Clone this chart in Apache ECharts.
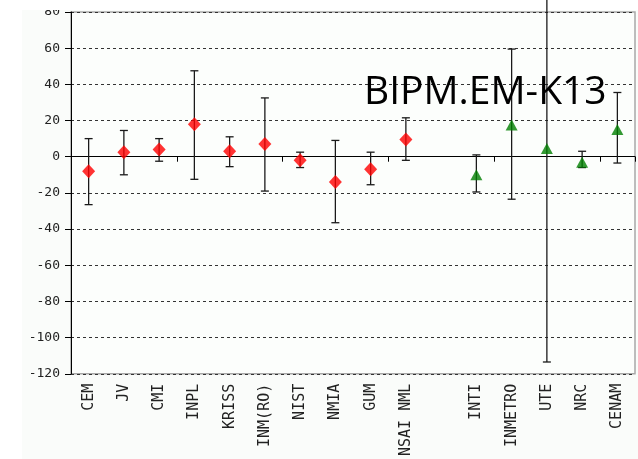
<!DOCTYPE html>
<html>
<head>
<meta charset="utf-8">
<script src="https://cdn.jsdelivr.net/npm/echarts@6/dist/echarts.min.js"></script>
<style>html,body{margin:0;padding:0;background:#fff}#c{width:638px;height:459px}</style>
</head>
<body>
<div id="c"></div>
<script>
var categories = ['CEM','JV','CMI','INPL','KRISS','INM(RO)','NIST','NMIA','GUM','NSAI NML','','INTI','INMETRO','UTE','NRC','CENAM'];
var values = [-8, 2.5, 4, 18, 3, 7, -2, -14, -7, 9.5, null, -10, 17.5, 4.5, -3, 15];
var upper  = [10, 14.5, 10, 47.5, 11, 32.5, 2.5, 9, 2.5, 21.5, null, 1, 59.5, 122, 3, 35.5];
var lower  = [-26.5, -10, -2.5, -12.5, -5.5, -19, -6, -36.5, -15.5, -2, null, -19.5, -23.5, -113.5, -6, -3.5];
var redCount = 10; // first group (diamonds); the rest after the gap are triangles
var yTicks = [-120, -100, -80, -60, -40, -20, 0, 20, 40, 60, 80];

var redData = [], greenData = [], errData = [];
for (var i = 0; i < categories.length; i++) {
  if (values[i] === null) continue;
  if (i < redCount) redData.push([i, values[i]]); else greenData.push([i, values[i]]);
  errData.push([i, lower[i], upper[i]]);
}

var chart = echarts.init(document.getElementById('c'));
chart.setOption({
  animation: false,
  backgroundColor: '#ffffff',
  grid: {left: 71, right: 3, top: 12, bottom: 83, show: true, backgroundColor: '#fcfefc', borderColor: '#a8a8a8', borderWidth: 1.5},
  xAxis: [{
    type: 'category', data: categories, position: 'bottom',
    axisLine: {onZero: true, lineStyle: {color: '#000', width: 1}},
    axisTick: {show: true, length: 5, lineStyle: {color: '#000'}},
    axisLabel: {show: false}, splitLine: {show: false}
  }, {
    type: 'category', data: categories, position: 'bottom',
    axisLine: {show: false, onZero: false}, axisTick: {show: false},
    axisLabel: {rotate: 90, margin: 10, interval: 0, fontFamily: 'DejaVu Sans Mono', fontSize: 15, color: '#222'},
    splitLine: {show: false}
  }],
  yAxis: {
    type: 'value', min: yTicks[0], max: yTicks[yTicks.length - 1], interval: 20,
    axisLine: {show: true, lineStyle: {color: '#000', width: 1}},
    axisTick: {show: true, length: 6, lineStyle: {color: '#000'}},
    axisLabel: {margin: 11, fontFamily: 'DejaVu Sans Mono', fontSize: 13, color: '#222'},
    splitLine: {show: true, lineStyle: {color: '#333', type: [3, 3], width: 1}}
  },
  graphic: [{
    type: 'rect', z: -10, silent: true,
    shape: {x: 22, y: 10, width: 616, height: 449},
    style: {fill: '#fafcfa'}
  }, {
    type: 'rect', z: 1, silent: true,
    shape: {x: 0, y: 0, width: 638, height: 10},
    style: {fill: '#ffffff'}
  }, {
    type: 'text', left: 364, top: 73, z: 100,
    style: {text: 'BIPM.EM-K13', font: '39px "Open Sans"', fill: '#000'}
  }],
  series: [{
    type: 'custom', xAxisIndex: 0, clip: false, z: 3,
    data: errData, encode: {x: 0, y: [1, 2]},
    renderItem: function (params, api) {
      var x = api.value(0);
      var lo = api.coord([x, api.value(1)]);
      var hi = api.coord([x, api.value(2)]);
      var w = 4;
      var st = {stroke: '#1a1a1a', lineWidth: 1.3};
      return {type: 'group', children: [
        {type: 'line', shape: {x1: hi[0], y1: hi[1], x2: lo[0], y2: lo[1]}, style: st},
        {type: 'line', shape: {x1: hi[0] - w, y1: hi[1], x2: hi[0] + w, y2: hi[1]}, style: st},
        {type: 'line', shape: {x1: lo[0] - w, y1: lo[1], x2: lo[0] + w, y2: lo[1]}, style: st}
      ]};
    }
  }, {
    type: 'scatter', xAxisIndex: 0, z: 5, data: redData,
    symbol: 'diamond', symbolSize: [13, 14], itemStyle: {color: '#ff0000'}
  }, {
    type: 'scatter', xAxisIndex: 0, z: 5, data: greenData,
    symbol: 'triangle', symbolSize: [12, 11], itemStyle: {color: '#008000'}
  }]
});
</script>
</body>
</html>
